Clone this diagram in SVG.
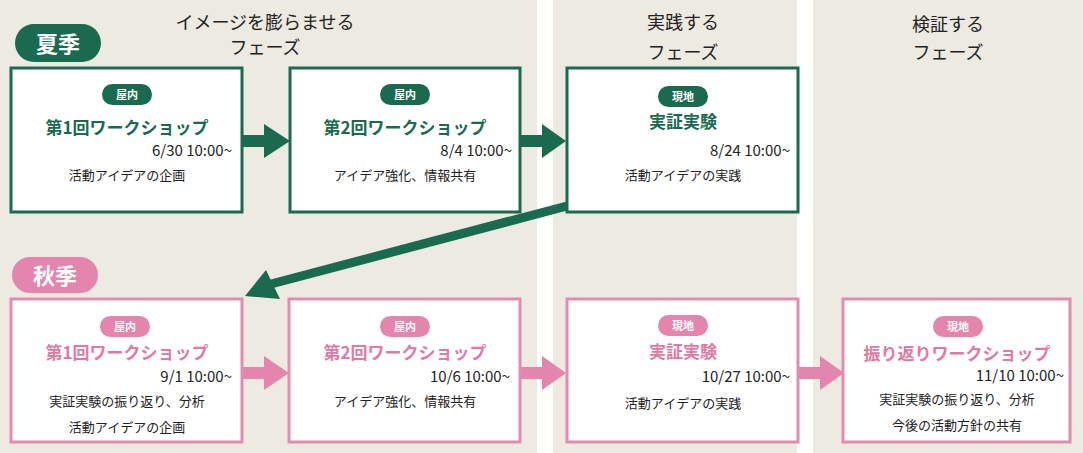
<svg xmlns="http://www.w3.org/2000/svg" width="1083" height="453" viewBox="0 0 1083 453">
<style>
text{font-family:"Noto Sans CJK JP","Noto Sans",sans-serif;text-anchor:middle}
.ph{font-size:18px;fill:#222}
.g rect.b{fill:#fff;stroke:#1a6a4f;stroke-width:3}
.p rect.b{fill:#fff;stroke:#e38bb0;stroke-width:3}
.g .bd{fill:#1a6a4f}.p .bd{fill:#e385ad}
.bt{font-size:11px;fill:#fff;font-weight:bold}
.g .t{fill:#1a6a4f}.p .t{fill:#e07aa5}
.t{font-size:17px;font-weight:bold}
.d{font-size:15px;fill:#222;text-anchor:end}
.s{font-size:13px;fill:#222}
</style>
<rect width="1083" height="453" fill="#edeae1"/>
<rect x="537" y="0" width="16" height="453" fill="#fff"/>
<rect x="797" y="0" width="16" height="453" fill="#fff"/>
<text class="ph" x="265" y="29">イメージを膨らませる</text>
<text class="ph" x="265" y="54">フェーズ</text>
<text class="ph" x="683" y="29">実践する</text>
<text class="ph" x="683" y="59">フェーズ</text>
<text class="ph" x="948" y="31">検証する</text>
<text class="ph" x="948" y="59">フェーズ</text>
<g id="summer"><rect x="15" y="24" width="86" height="38" rx="19" fill="#1a6a4f"/><text x="58" y="52" font-size="22" font-weight="bold" fill="#fff">夏季</text></g>
<g id="autumn"><rect x="12" y="257" width="86" height="36" rx="18" fill="#e385ad"/><text x="55" y="284" font-size="22" font-weight="bold" fill="#fff">秋季</text></g>
<g id="connectors">
<path d="M242 135h22v-11l26 17-26 17v-11h-22z" fill="#1a6a4f"/>
<path d="M520 135h22v-11l24 17-24 17v-11h-22z" fill="#1a6a4f"/>
<path d="M567 206L271 284" stroke="#1a6a4f" stroke-width="9" fill="none"/>
<path d="M245 296L266 270L280 299z" fill="#1a6a4f"/>
<path d="M242 367h22v-11l25 17-25 17v-11h-22z" fill="#e385ad"/>
<path d="M520 367h22v-11l24 17-24 17v-11h-22z" fill="#e385ad"/>
<path d="M798 367h22v-11l24 17-24 17v-11h-22z" fill="#e385ad"/>
</g>
<g id="s1" class="g"><rect class="b" x="11" y="68" width="231" height="144"/><rect class="bd" x="102" y="84" width="50" height="21" rx="10.5"/><text class="bt" x="127" y="99">屋内</text><text class="t" x="127" y="134">第1回ワークショップ</text><text class="d" x="232" y="156">6/30 10:00~</text><text class="s" x="127" y="180">活動アイデアの企画</text></g>
<g id="s2" class="g"><rect class="b" x="290" y="68" width="230" height="144"/><rect class="bd" x="380" y="84" width="50" height="21" rx="10.5"/><text class="bt" x="405" y="99">屋内</text><text class="t" x="405" y="134">第2回ワークショップ</text><text class="d" x="512" y="156">8/4 10:00~</text><text class="s" x="405" y="180">アイデア強化、情報共有</text></g>
<g id="s3" class="g"><rect class="b" x="567" y="68" width="231" height="144"/><rect class="bd" x="658" y="86" width="50" height="21" rx="10.5"/><text class="bt" x="683" y="101">現地</text><text class="t" x="683" y="128">実証実験</text><text class="d" x="790" y="156">8/24 10:00~</text><text class="s" x="683" y="180">活動アイデアの実践</text></g>
<g id="a1" class="p"><rect class="b" x="11" y="299" width="231" height="143"/><rect class="bd" x="100" y="316" width="50" height="21" rx="10.5"/><text class="bt" x="125" y="331">屋内</text><text class="t" x="127" y="359">第1回ワークショップ</text><text class="d" x="232" y="382">9/1 10:00~</text><text class="s" x="127" y="406">実証実験の振り返り、分析</text><text class="s" x="127" y="432">活動アイデアの企画</text></g>
<g id="a2" class="p"><rect class="b" x="289" y="299" width="231" height="143"/><rect class="bd" x="380" y="316" width="50" height="21" rx="10.5"/><text class="bt" x="405" y="331">屋内</text><text class="t" x="405" y="359">第2回ワークショップ</text><text class="d" x="510" y="382">10/6 10:00~</text><text class="s" x="405" y="406">アイデア強化、情報共有</text></g>
<g id="a3" class="p"><rect class="b" x="567" y="299" width="231" height="143"/><rect class="bd" x="658" y="315" width="50" height="21" rx="10.5"/><text class="bt" x="683" y="330">現地</text><text class="t" x="683" y="358">実証実験</text><text class="d" x="790" y="382">10/27 10:00~</text><text class="s" x="683" y="408">活動アイデアの実践</text></g>
<g id="a4" class="p"><rect class="b" x="843" y="299" width="227" height="143"/><rect class="bd" x="933" y="316" width="50" height="21" rx="10.5"/><text class="bt" x="958" y="331">現地</text><text class="t" x="957" y="360">振り返りワークショップ</text><text class="d" x="1064" y="381">11/10 10:00~</text><text class="s" x="957" y="404">実証実験の振り返り、分析</text><text class="s" x="957" y="430">今後の活動方針の共有</text></g>
</svg>
